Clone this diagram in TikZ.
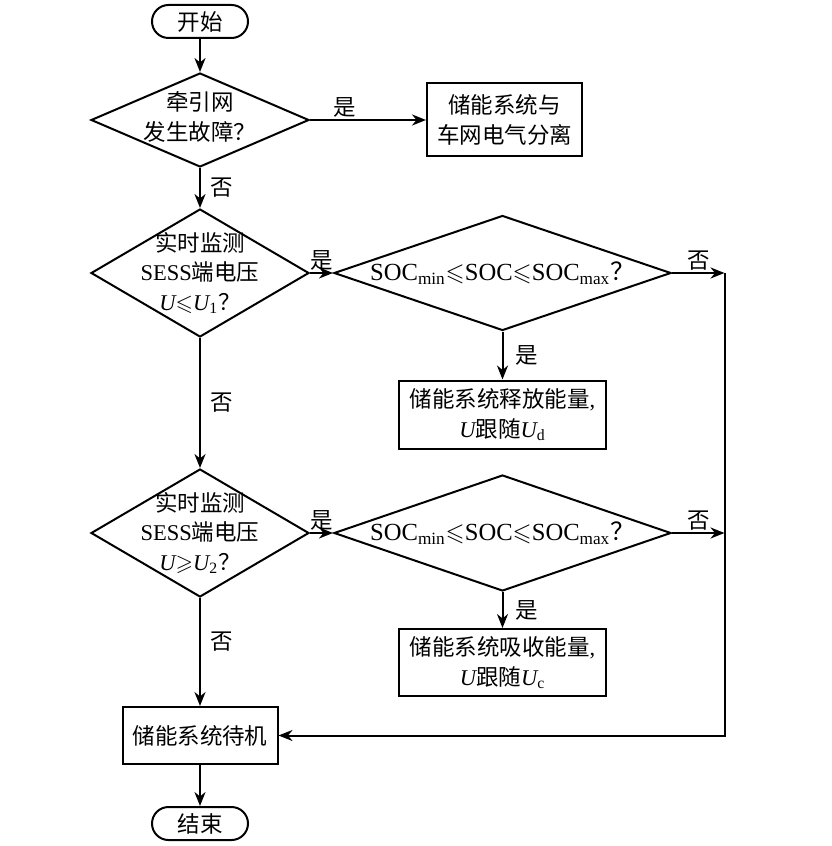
\documentclass[tikz,border=0pt]{standalone}
\usepackage{fontspec}
\usepackage{amssymb}
\setmainfont{Liberation Serif}
\newfontfamily\cjk{Noto Sans CJK SC}
\newcommand{\lat}[1]{{\rmfamily #1}}
\newcommand{\vsym}[1]{{\rmfamily\itshape #1}}
\usetikzlibrary{shapes, arrows.meta, positioning}

\begin{document}
\begin{tikzpicture}[
        line width=0.4mm,
        txt/.style={font=\cjk\fontsize{12.8pt}{17pt}\selectfont},
        terminal/.style={draw, rectangle, rounded corners=3.3mm, minimum width=19.2mm, minimum height=6.6mm, txt},
        decision/.style={draw, diamond, inner sep=0pt},
        dtext/.style={txt, align=center, inner sep=0pt},
        process/.style={draw, rectangle, align=center, inner sep=1mm, txt},
        arrow/.style={-{Stealth[length=2.8mm, width=2.2mm, inset=0.9mm]}},
        lbl/.style={txt, inner sep=1pt}
    ]
        \useasboundingbox (0,0) rectangle (166.2mm,-169.2mm);

        % Start and fault check
        \node[terminal] (start) at (40mm,-4.3mm) {开始};
        \node[decision, minimum width=43.6mm, minimum height=18.8mm, below=6.6mm of start,
            label={[dtext, yshift=0.6mm]center:{牵引网\\发生故障？}}] (fault) {};
        \node[process, minimum width=31mm, minimum height=14.6mm, right=23.2mm of fault] (isolate) {储能系统与\\车网电气分离};

        % Low voltage branch
        \node[decision, minimum width=43.6mm, minimum height=25.6mm, below=8mm of fault,
            label={[dtext]center:{实时监测\\\lat{SESS}端电压\\\vsym{U}$\leqslant$\vsym{U}\textsubscript{\lat{1}}？}}] (low) {};
        \node[decision, minimum width=67.4mm, minimum height=23mm, right=4.6mm of low,
            label={[dtext]center:{\fontsize{14pt}{17pt}\selectfont\lat{SOC\textsubscript{min}}$\leqslant$\lat{SOC}$\leqslant$\lat{SOC\textsubscript{max}}？}}] (socA) {};
        \node[process, minimum width=41.4mm, minimum height=13.6mm, below=9.6mm of socA] (discharge) {储能系统释放能量\lat{,}\\\vsym{U}跟随\vsym{U}\textsubscript{\lat{d}}};

        % High voltage branch
        \node[decision, minimum width=43.6mm, minimum height=25.6mm, below=26mm of low,
            label={[dtext]center:{实时监测\\\lat{SESS}端电压\\\vsym{U}$\geqslant$\vsym{U}\textsubscript{\lat{2}}？}}] (high) {};
        \node[decision, minimum width=67.4mm, minimum height=23.2mm, right=4.6mm of high,
            label={[dtext]center:{\fontsize{14pt}{17pt}\selectfont\lat{SOC\textsubscript{min}}$\leqslant$\lat{SOC}$\leqslant$\lat{SOC\textsubscript{max}}？}}] (socB) {};
        \node[process, minimum width=41.4mm, minimum height=13.4mm, below=7.2mm of socB] (charge) {储能系统吸收能量\lat{,}\\\vsym{U}跟随\vsym{U}\textsubscript{\lat{c}}};

        % Standby and end
        \node[process, minimum width=31mm, minimum height=11.4mm, below=21.6mm of high] (standby) {储能系统待机};
        \node[terminal, below=8.2mm of standby] (stop) {结束};

        \coordinate[right=10.5mm of socA] (railA);
        \coordinate[right=10.5mm of socB] (railB);

        % Arrows
        \draw[arrow] (start) -- (fault);
        \draw[arrow] (fault) -- node[lbl, above, pos=0.3] {是} (isolate);
        \draw[arrow] (fault) -- node[lbl, right=1.6mm] {否} (low);
        \draw[arrow] (low) -- node[lbl, above] {是} (socA);
        \draw[arrow] (socA) -- node[lbl, right=2mm] {是} (discharge);
        \draw[arrow] (socA) -- node[lbl, above] {否} (railA);
        \draw[arrow] (low) -- node[lbl, right=1.6mm] {否} (high);
        \draw[arrow] (high) -- node[lbl, above] {是} (socB);
        \draw[arrow] (socB) -- node[lbl, right=2mm] {是} (charge);
        \draw[arrow] (socB) -- node[lbl, above] {否} (railB);
        \draw[arrow] (high) -- node[lbl, right=1.6mm, pos=0.4] {否} (standby);
        \draw[arrow] (railA) |- (standby);
        \draw[arrow] (standby) -- (stop);
    \end{tikzpicture}
\end{document}
